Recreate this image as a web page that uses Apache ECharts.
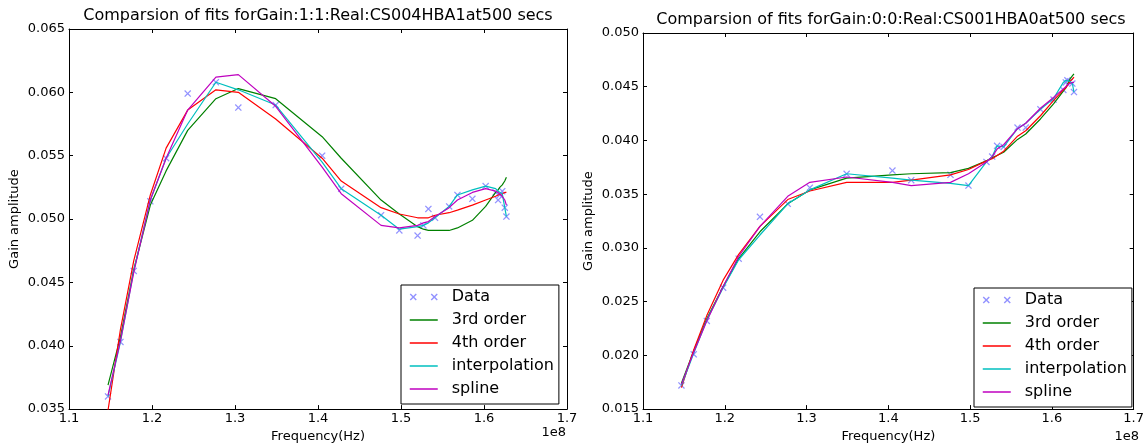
<!DOCTYPE html>
<html>
<head>
<meta charset="utf-8">
<script src="https://cdn.jsdelivr.net/npm/echarts@6/dist/echarts.min.js"></script>
<style>
html,body{margin:0;padding:0;background:#fff;}
#main{width:1147px;height:448px;}
</style>
</head>
<body>
<div id="main"></div>
<script>
// frequencies in units of 1e8 Hz (same subbands in both panels)
var freqs = [1.147, 1.162, 1.178, 1.198, 1.217, 1.243, 1.277, 1.304, 1.349, 1.405, 1.428, 1.476, 1.498, 1.520,
    1.527, 1.533, 1.541, 1.558, 1.568, 1.586, 1.602, 1.614, 1.617, 1.619, 1.622, 1.625, 1.627];

// left panel: Gain:1:1:Real:CS004HBA1
var dataA   = [0.0360, 0.0403, 0.0459, 0.0514, 0.0548, 0.0599, 0.0608, 0.0588, 0.0590, 0.0550, 0.0524, 0.0503, 0.0491, 0.0487,
    0.0495, 0.0508, 0.0501, 0.0510, 0.0519, 0.0516, 0.0526, 0.0521, 0.0515, 0.0519, 0.0522, 0.0509, 0.0502];
var ord3A   = [0.0369, 0.0407, 0.0460, 0.0511, 0.0538, 0.0570, 0.0595, 0.0603, 0.0595, 0.0565, 0.0548, 0.0515, 0.0504, 0.0494,
    0.0492, 0.0491, 0.0491, 0.0491, 0.0493, 0.0499, 0.0510, 0.0521, 0.0523, 0.0525, 0.0527, 0.0530, 0.0533];
var ord4A   = [0.0349, 0.0413, 0.0467, 0.0519, 0.0556, 0.0586, 0.0602, 0.0600, 0.0579, 0.0548, 0.0530, 0.0509, 0.0504, 0.0501,
    0.0501, 0.0501, 0.0503, 0.0505, 0.0507, 0.0511, 0.0515, 0.0518, 0.0519, 0.0520, 0.0520, 0.0521, 0.0521];
var interpA = [0.0360, 0.0403, 0.0459, 0.0515, 0.0548, 0.0575, 0.0608, 0.0602, 0.0590, 0.0545, 0.0524, 0.0503, 0.0492, 0.0494,
    0.0495, 0.0497, 0.0501, 0.0510, 0.0519, 0.0523, 0.0526, 0.0524, 0.0522, 0.0521, 0.0520, 0.0509, 0.0502];
var splineA = [0.0361, 0.0404, 0.0458, 0.0515, 0.0548, 0.0586, 0.0612, 0.0614, 0.0589, 0.0541, 0.0520, 0.0495, 0.0493, 0.0495,
    0.0497, 0.0498, 0.0502, 0.0509, 0.0515, 0.0521, 0.0524, 0.0522, 0.0521, 0.0520, 0.0518, 0.0515, 0.0511];

// right panel: Gain:0:0:Real:CS001HBA0
var dataB   = [0.0172, 0.0201, 0.0232, 0.0263, 0.0290, 0.0329, 0.0341, 0.0356, 0.0369, 0.0372, 0.0363, 0.0368, 0.0358, 0.0380,
    0.0385, 0.0395, 0.0394, 0.0412, 0.0412, 0.0429, 0.0438, 0.0447, 0.0454, 0.0456, 0.0455, 0.0453, 0.0445];
var ord3B   = [0.0174, 0.0204, 0.0234, 0.0264, 0.0290, 0.0315, 0.0341, 0.0354, 0.0365, 0.0368, 0.0369, 0.0370, 0.0374, 0.0381,
    0.0384, 0.0386, 0.0389, 0.0401, 0.0406, 0.0420, 0.0434, 0.0446, 0.0449, 0.0452, 0.0457, 0.0460, 0.0462];
var ord4B   = [0.0170, 0.0205, 0.0237, 0.0270, 0.0294, 0.0320, 0.0345, 0.0353, 0.0361, 0.0361, 0.0363, 0.0368, 0.0373, 0.0381,
    0.0383, 0.0386, 0.0390, 0.0404, 0.0409, 0.0423, 0.0437, 0.0447, 0.0449, 0.0451, 0.0455, 0.0457, 0.0459];
var interpB = [0.0172, 0.0202, 0.0233, 0.0263, 0.0289, 0.0312, 0.0341, 0.0354, 0.0369, 0.0365, 0.0363, 0.0360, 0.0358, 0.0380,
    0.0385, 0.0395, 0.0394, 0.0411, 0.0416, 0.0429, 0.0439, 0.0454, 0.0456, 0.0456, 0.0455, 0.0453, 0.0445];
var splineB = [0.0173, 0.0203, 0.0232, 0.0264, 0.0292, 0.0320, 0.0348, 0.0361, 0.0366, 0.0361, 0.0358, 0.0361, 0.0369, 0.0380,
    0.0385, 0.0392, 0.0396, 0.0411, 0.0416, 0.0430, 0.0440, 0.0448, 0.0450, 0.0452, 0.0453, 0.0454, 0.0454];

var titles = ['Comparsion of fits forGain:1:1:Real:CS004HBA1at500 secs', 'Comparsion of fits forGain:0:0:Real:CS001HBA0at500 secs'];
var names = ['Data', '3rd order', '4th order', 'interpolation', 'spline'];
var colors = ['#7777ff', '#008000', '#ff0000', '#00bfbf', '#bf00bf'];

var FONT = 'DejaVu Sans';
var CROSS = 'path://M0,1L1,0L4,3L7,0L8,1L5,4L8,7L7,8L4,5L1,8L0,7L3,4Z';
var CROSS2 = 'path://M0,1L1,0L3.5,2.5L6,0L7,1L4.5,3.5L7,6L6,7L3.5,4.5L1,7L0,6L2.5,3.5Z' +
    'M21,1L22,0L24.5,2.5L27,0L28,1L25.5,3.5L28,6L27,7L24.5,4.5L22,7L21,6L23.5,3.5Z';

function pairs(vals){
    return freqs.map(function(f, i){ return [f, vals[i]]; });
}

function xAxisOf(grid, pos){
    var main = pos === 'bottom';
    return {
        type: 'value', gridIndex: grid, position: pos,
        min: 1.1, max: 1.7, interval: 0.1,
        name: main ? 'Frequency(Hz)' : '', nameLocation: 'middle', nameGap: 16,
        nameTextStyle: {fontFamily: FONT, fontSize: 13, color: '#000'},
        axisLine: {show: true, onZero: false, lineStyle: {color: '#000', width: 1}},
        axisTick: {show: true, inside: true, length: 4, lineStyle: {color: '#000'}},
        axisLabel: {show: main, margin: 3, fontFamily: FONT, fontSize: 13, color: '#000',
            formatter: function(v){ return v.toFixed(1); }},
        splitLine: {show: false}
    };
}

function yAxisOf(grid, pos, lo, hi){
    var main = pos === 'left';
    return {
        type: 'value', gridIndex: grid, position: pos,
        min: lo, max: hi, interval: 0.005,
        name: main ? 'Gain amplitude' : '', nameLocation: 'middle', nameGap: 48,
        nameTextStyle: {fontFamily: FONT, fontSize: 13, color: '#000'},
        axisLine: {show: true, onZero: false, lineStyle: {color: '#000', width: 1}},
        axisTick: {show: true, inside: true, length: 4, lineStyle: {color: '#000'}},
        axisLabel: {show: main, margin: 4, fontFamily: FONT, fontSize: 13, color: '#000',
            formatter: function(v){ return v.toFixed(3); }},
        splitLine: {show: false}
    };
}

function seriesOf(grid, sets){
    var out = [];
    sets.forEach(function(vals, k){
        if (k === 0) {
            out.push({
                name: names[k], type: 'scatter', xAxisIndex: grid * 2, yAxisIndex: grid * 2,
                symbol: CROSS, symbolSize: 7, itemStyle: {color: colors[k]},
                data: pairs(vals), z: 2
            });
        } else {
            out.push({
                name: names[k], type: 'line', xAxisIndex: grid * 2, yAxisIndex: grid * 2,
                symbol: 'none', clip: true,
                lineStyle: {color: colors[k], width: 1.2}, itemStyle: {color: colors[k]},
                data: pairs(vals), z: 3
            });
        }
    });
    return out;
}

function legendOf(left, top){
    var items = [{name: 'Data', icon: CROSS2}];
    names.slice(1).forEach(function(n){
        items.push({name: n, itemStyle: {opacity: 0}, lineStyle: {width: 1.5}});
    });
    return {
        orient: 'vertical', left: left, top: top,
        padding: [4, 5, 7, 8], itemGap: 7, itemWidth: 28, itemHeight: 7,
        borderColor: '#000', borderWidth: 1, borderRadius: 0,
        backgroundColor: '#fff', selectedMode: false,
        textStyle: {fontFamily: FONT, fontSize: 16, color: '#000', lineHeight: 16, padding: [0, 0, 0, 9]},
        data: items
    };
}

var chart = echarts.init(document.getElementById('main'));
var option = {
    animation: false,
    backgroundColor: '#fff',
    title: [
        {text: titles[0], left: 318, top: 8, textAlign: 'center', padding: 0,
            textStyle: {fontFamily: FONT, fontSize: 16, fontWeight: 'normal', color: '#000'}},
        {text: titles[1], left: 891, top: 12, textAlign: 'center', padding: 0,
            textStyle: {fontFamily: FONT, fontSize: 16, fontWeight: 'normal', color: '#000'}}
    ],
    grid: [
        {left: 69, top: 29, width: 498, height: 384},
        {left: 643, top: 33, width: 497, height: 384}
    ],
    xAxis: [xAxisOf(0, 'bottom'), xAxisOf(0, 'top'), xAxisOf(1, 'bottom'), xAxisOf(1, 'top')],
    yAxis: [yAxisOf(0, 'left', 0.035, 0.065), yAxisOf(0, 'right', 0.035, 0.065),
            yAxisOf(1, 'left', 0.015, 0.050), yAxisOf(1, 'right', 0.015, 0.050)],
    legend: [legendOf(401, 285), legendOf(974, 288)],
    graphic: [
        {type: 'text', right: 1147 - 566, top: 426, style: {text: '1e8', font: '13px "DejaVu Sans"', fill: '#000'}},
        {type: 'text', right: 1147 - 1139, top: 430, style: {text: '1e8', font: '13px "DejaVu Sans"', fill: '#000'}}
    ],
    series: seriesOf(0, [dataA, ord3A, ord4A, interpA, splineA]).concat(
            seriesOf(1, [dataB, ord3B, ord4B, interpB, splineB]))
};
chart.setOption(option);
</script>
</body>
</html>
